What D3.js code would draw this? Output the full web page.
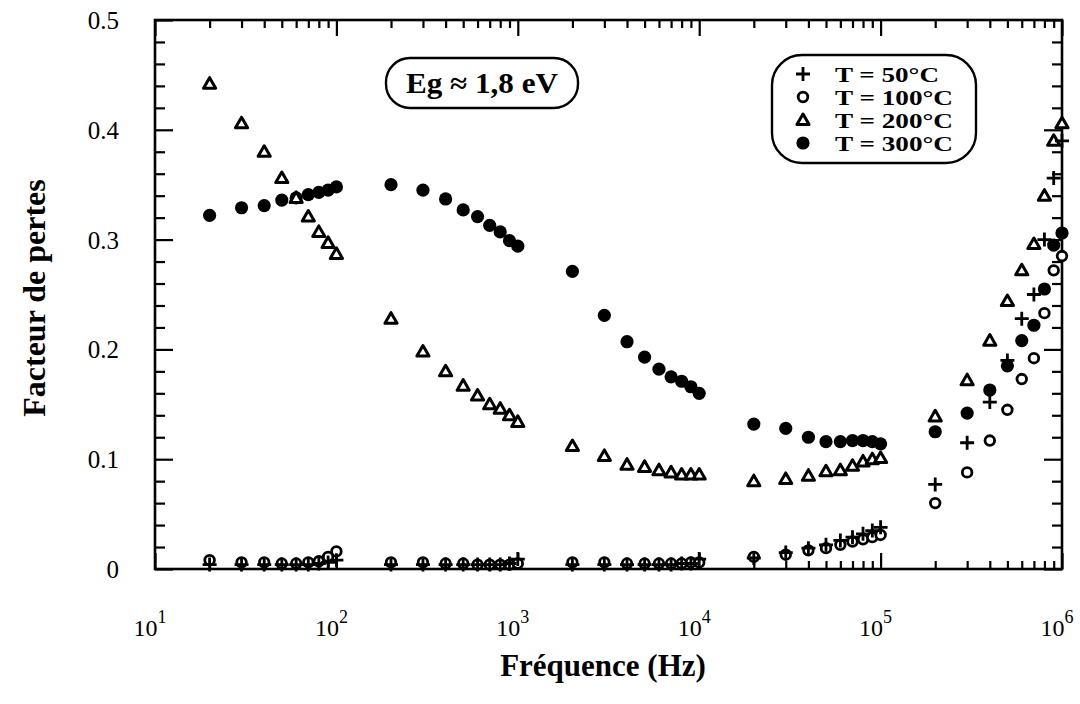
<!DOCTYPE html>
<html><head><meta charset="utf-8">
<script src="https://cdn.jsdelivr.net/npm/d3@7"></script>
<style>body{margin:0;background:#fff}svg{display:block}</style>
</head><body><svg id="c" width="1080" height="704"></svg>
<script>
const freq = [20,30,40,50,60,70,80,90,100,
  200,300,400,500,600,700,800,900,1000,
  2000,3000,4000,5000,6000,7000,8000,9000,10000,
  2e4,3e4,4e4,5e4,6e4,7e4,8e4,9e4,1e5,
  2e5,3e5,4e5,5e5,6e5,7e5,8e5,9e5,1e6];
const t50 = [0.004,0.004,0.004,0.004,0.004,0.004,0.005,0.006,0.008,
  0.004,0.004,0.004,0.004,0.004,0.004,0.004,0.005,0.009,
  0.004,0.004,0.004,0.004,0.004,0.004,0.005,0.005,0.009,
  0.010,0.015,0.019,0.022,0.026,0.029,0.032,0.035,0.038,
  0.077,0.115,0.152,0.190,0.228,0.250,0.300,0.356,0.390];
const t100 = [0.008,0.006,0.006,0.005,0.005,0.006,0.007,0.011,0.016,
  0.006,0.006,0.005,0.005,0.004,0.004,0.004,0.004,0.005,
  0.006,0.006,0.005,0.005,0.005,0.005,0.005,0.006,0.006,
  0.011,0.013,0.017,0.019,0.022,0.025,0.027,0.029,0.031,
  0.060,0.088,0.117,0.145,0.173,0.192,0.233,0.272,0.285];
const t200 = [0.442,0.406,0.380,0.356,0.338,0.321,0.307,0.297,0.287,
  0.228,0.198,0.180,0.167,0.158,0.150,0.146,0.140,0.134,
  0.112,0.103,0.095,0.093,0.090,0.088,0.086,0.086,0.086,
  0.080,0.082,0.085,0.089,0.090,0.094,0.098,0.100,0.101,
  0.139,0.172,0.208,0.244,0.272,0.296,0.340,0.390,0.406];
const t300 = [0.322,0.329,0.331,0.336,0.338,0.341,0.343,0.345,0.348,
  0.350,0.345,0.337,0.327,0.321,0.313,0.307,0.299,0.294,
  0.271,0.231,0.207,0.193,0.182,0.175,0.171,0.166,0.160,
  0.132,0.128,0.120,0.116,0.116,0.117,0.117,0.116,0.114,
  0.125,0.142,0.163,0.185,0.208,0.222,0.255,0.295,0.306];
const seriesNames = ["T = 50°C","T = 100°C","T = 200°C","T = 300°C"];
const seriesSymbols = ["plus","open","tri","filled"];
const xTickExps = [1,2,3,4,5,6];
const yTicks = [0,0.1,0.2,0.3,0.4,0.5];
const yTickLabels = ["0","0.1","0.2","0.3","0.4","0.5"];
const annotation = "Eg ≈ 1,8 eV";
const xTitle = "Fréquence (Hz)";
const yTitle = "Facteur de pertes";

const L=155, R=1062, T=20, B=569;
const svg = d3.select("#c");
const x = d3.scaleLog().domain([10,1e6]).range([L,R]);
const y = d3.scaleLinear().domain([0,0.5]).range([B,T]);
const serif = "'Liberation Serif','Times New Roman',serif";

const majorX = xTickExps.map(e=>Math.pow(10,e));
const minorX = [];
for (let e=1;e<6;e++) for (let k=2;k<=9;k++) minorX.push(k*Math.pow(10,e));
const minorY = d3.range(0,26).map(i=>i*0.02).filter(v=>Math.abs(v*10-Math.round(v*10))>1e-6);

function styleAxis(g){ g.select(".domain").remove(); g.selectAll("line").attr("stroke","#000").attr("stroke-width",2.2); g.selectAll("text").remove(); }
svg.append("g").attr("transform",`translate(0,${B})`).call(d3.axisBottom(x).tickValues(majorX).tickSize(-16).tickFormat("")).call(styleAxis);
svg.append("g").attr("transform",`translate(0,${B})`).call(d3.axisBottom(x).tickValues(minorX).tickSize(-8).tickFormat("")).call(styleAxis);
svg.append("g").attr("transform",`translate(0,${T})`).call(d3.axisTop(x).tickValues(majorX).tickSize(-16).tickFormat("")).call(styleAxis);
svg.append("g").attr("transform",`translate(0,${T})`).call(d3.axisTop(x).tickValues(minorX).tickSize(-8).tickFormat("")).call(styleAxis);
svg.append("g").attr("transform",`translate(${L},0)`).call(d3.axisLeft(y).tickValues(yTicks).tickSize(-18).tickFormat("")).call(styleAxis);
svg.append("g").attr("transform",`translate(${L},0)`).call(d3.axisLeft(y).tickValues(minorY).tickSize(-10).tickFormat("")).call(styleAxis);
svg.append("g").attr("transform",`translate(${R},0)`).call(d3.axisRight(y).tickValues(yTicks).tickSize(-18).tickFormat("")).call(styleAxis);
svg.append("g").attr("transform",`translate(${R},0)`).call(d3.axisRight(y).tickValues(minorY).tickSize(-10).tickFormat("")).call(styleAxis);
svg.append("rect").attr("x",L).attr("y",T).attr("width",R-L).attr("height",B-T)
  .attr("fill","none").attr("stroke","#000").attr("stroke-width",2.6);

// tick labels
svg.append("g").selectAll("text").data(yTicks).join("text")
  .attr("x",L-36).attr("y",d=>y(d)+9).attr("text-anchor","end")
  .attr("font-family",serif).attr("font-size",25).text((d,i)=>yTickLabels[i]);
const xl = svg.append("g").selectAll("text").data(majorX).join("text")
  .attr("x",d=>x(d)-5).attr("y",B+67).attr("text-anchor","middle")
  .attr("font-family",serif).attr("font-size",24);
xl.append("tspan").text("10");
xl.append("tspan").attr("dy",-13).attr("font-size",18).text((d,i)=>xTickExps[i]);

// titles
svg.append("text").attr("x",603).attr("y",676).attr("text-anchor","middle")
  .attr("font-family",serif).attr("font-weight","bold").attr("font-size",31).text(xTitle);
svg.append("text").attr("transform","translate(45,298) rotate(-90)").attr("text-anchor","middle")
  .attr("font-family",serif).attr("font-weight","bold").attr("font-size",32).text(yTitle);

function drawSym(g, type, cx, cy){
  if(type==="plus"){
    g.append("path").attr("d",`M${cx-7},${cy}H${cx+7}M${cx},${cy-7}V${cy+7}`)
      .attr("stroke","#000").attr("stroke-width",2.8).attr("fill","none");
  } else if(type==="open"){
    g.append("circle").attr("cx",cx).attr("cy",cy).attr("r",4.8)
      .attr("fill","#fff").attr("stroke","#000").attr("stroke-width",2.8);
  } else if(type==="tri"){
    g.append("path").attr("d",d3.symbol(d3.symbolTriangle,64)()).attr("transform",`translate(${cx},${cy+1})`)
      .attr("fill","#fff").attr("stroke","#000").attr("stroke-width",3).attr("stroke-linejoin","round");
  } else {
    g.append("circle").attr("cx",cx).attr("cy",cy).attr("r",6.6).attr("fill","#000");
  }
}
const allSeries = [t50,t100,t200,t300];
[3,2,1,0].forEach(si=>{
  const g = svg.append("g");
  allSeries[si].forEach((v,i)=>drawSym(g, seriesSymbols[si], x(freq[i]), y(v)));
});

// annotation box
svg.append("rect").attr("x",386).attr("y",58).attr("width",192).attr("height",50).attr("rx",24)
  .attr("fill","#fff").attr("stroke","#000").attr("stroke-width",2.4);
svg.append("text").attr("x",482).attr("y",93).attr("text-anchor","middle")
  .attr("font-family",serif).attr("font-weight","bold").attr("font-size",29)
  .attr("textLength",152).attr("lengthAdjust","spacingAndGlyphs").text(annotation);

// legend
svg.append("rect").attr("x",772).attr("y",55).attr("width",204).attr("height",108).attr("rx",30)
  .attr("fill","#fff").attr("stroke","#000").attr("stroke-width",2.4);
const lg = svg.append("g");
seriesNames.forEach((n,i)=>{
  const cy = 74 + i*23;
  drawSym(lg, seriesSymbols[i], 803, cy);
  lg.append("text").attr("x",835).attr("y",cy+8).attr("font-family",serif)
    .attr("font-weight","bold").attr("font-size",21).attr("textLength",i===0?104:118)
    .attr("lengthAdjust","spacingAndGlyphs").text(n);
});
</script></body></html>
